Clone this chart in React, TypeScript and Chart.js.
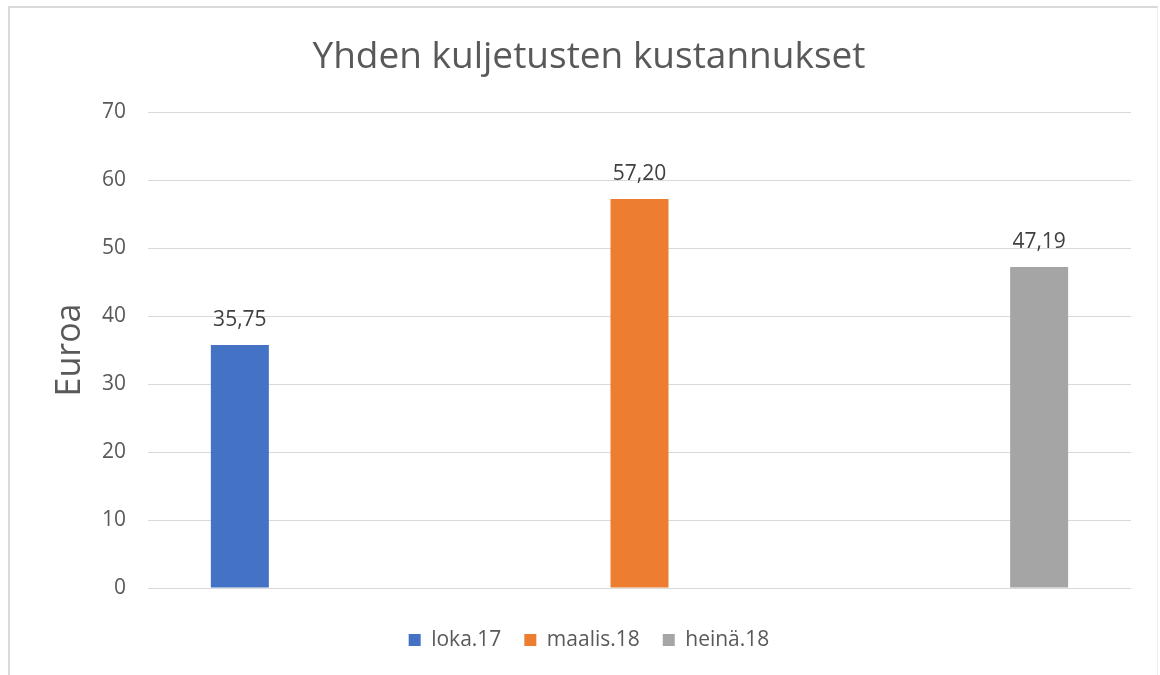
import React, { useEffect, useRef } from "react";
import { Chart, registerables } from "chart.js";

Chart.register(...registerables);

const categories = ["loka.17", "maalis.18", "heinä.18"];
const seriesNames = ["loka.17", "maalis.18", "heinä.18"];
const seriesLoka = [35.75, null, null];
const seriesMaalis = [null, 57.2, null];
const seriesHeina = [null, null, 47.19];
const seriesColors = ["#4472C4", "#ED7D31", "#A5A5A5"];
const yTicksMin = 0;
const yTicksMax = 70;
const yTicksStep = 10;
const chartTitle = "Yhden kuljetusten kustannukset";
const yAxisTitle = "Euroa";

const FONT = "'Open Sans', sans-serif";

const valueLabels = {
  id: "valueLabels",
  afterDatasetsDraw(chart: any) {
    const ctx = chart.ctx;
    ctx.save();
    ctx.font = `21px ${FONT}`;
    ctx.fillStyle = "#404040";
    ctx.textAlign = "center";
    ctx.textBaseline = "middle";
    chart.data.datasets.forEach((ds: any, di: number) => {
      const meta = chart.getDatasetMeta(di);
      meta.data.forEach((el: any, i: number) => {
        const v = ds.data[i];
        if (v === null || v === undefined) return;
        const txt = Number(v).toFixed(2).replace(".", ",");
        ctx.fillText(txt, el.x, el.y - 25);
      });
    });
    ctx.restore();
  },
};

export default function App() {
  const ref = useRef<HTMLCanvasElement | null>(null);
  useEffect(() => {
    if (!ref.current) return;
    const datasets = [seriesLoka, seriesMaalis, seriesHeina].map((d, i) => ({
      label: seriesNames[i],
      data: d,
      backgroundColor: seriesColors[i],
      borderWidth: 0,
      categoryPercentage: 0.659,
      barPercentage: 0.806,
    }));
    const chart = new Chart(ref.current, {
      type: "bar",
      data: { labels: categories, datasets },
      plugins: [valueLabels],
      options: {
        animation: false,
        responsive: true,
        maintainAspectRatio: false,
        layout: { padding: { left: 47, right: 29, top: 0, bottom: 14.5 } },
        plugins: {
          tooltip: { enabled: false },
          title: {
            display: true,
            text: chartTitle,
            color: "#595959",
            font: { family: FONT, size: 37, weight: "normal" as any },
            padding: { top: 35, bottom: 32.6 },
          },
          legend: {
            position: "bottom",
            labels: {
              boxWidth: 12,
              boxHeight: 12,
              padding: 23,
              color: "#595959",
              font: { family: FONT, size: 21 },
            },
          },
        },
        scales: {
          x: {
            grid: { display: false },
            border: { display: false },
            ticks: { display: false },
            afterFit: (s: any) => {
              s.height = 18.5;
            },
          },
          y: {
            min: yTicksMin,
            max: yTicksMax,
            ticks: {
              stepSize: yTicksStep,
              padding: 22,
              color: "#595959",
              font: { family: FONT, size: 21 },
            },
            grid: { color: "#d9d9d9", lineWidth: 1, drawTicks: false },
            border: { display: false },
            title: {
              display: true,
              text: yAxisTitle,
              color: "#595959",
              font: { family: FONT, size: 34 },
              padding: { top: 3, bottom: 0 },
            },
            afterFit: (s: any) => {
              s.width = 101;
            },
          },
        },
      },
    });
    return () => chart.destroy();
  }, []);
  return (
    <div style={{ position: "fixed", left: 0, top: 0, width: 1160, height: 675, background: "#fff" }}>
      <div
        style={{
          position: "absolute",
          left: 8,
          top: 6,
          width: 1150,
          height: 680,
          borderTop: "2px solid #d9d9d9",
          borderLeft: "2px solid #d9d9d9",
          borderRight: "1px solid #eeeeee",
          boxSizing: "border-box",
        }}
      />
      <canvas ref={ref} style={{ position: "absolute", left: 0, top: 0, width: 1160, height: 675 }} />
    </div>
  );
}
